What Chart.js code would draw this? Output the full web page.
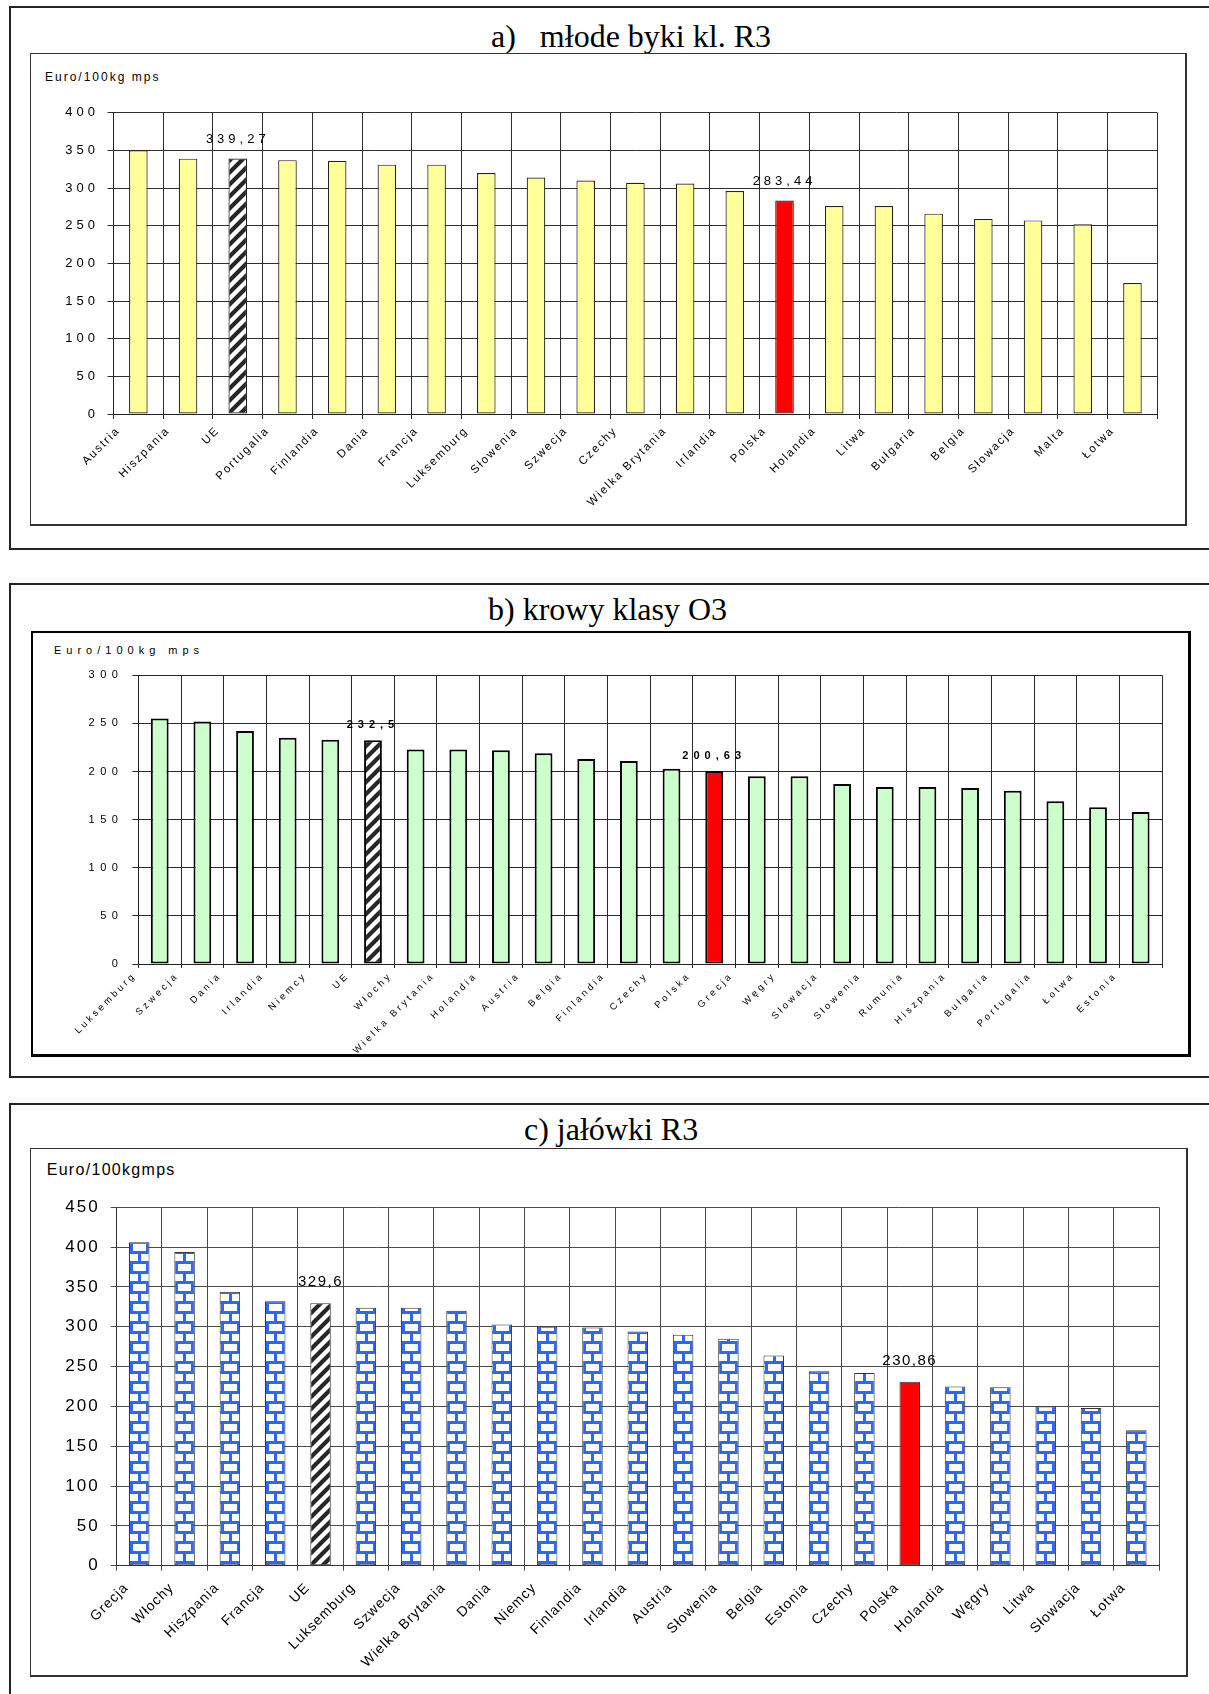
<!DOCTYPE html>
<html><head><meta charset="utf-8">
<script src="https://cdn.jsdelivr.net/npm/chart.js@4.4.1/dist/chart.umd.min.js"></script>
<style>
html,body{margin:0;padding:0;background:#fff;}
body{width:1209px;height:1694px;position:relative;overflow:hidden;font-family:'Liberation Sans',Arial,sans-serif;}
.outer{position:absolute;border:2px solid #222;box-sizing:border-box;}
.inner{position:absolute;box-sizing:border-box;background:#fff;border-style:solid;}
.title{position:absolute;font-family:'Liberation Serif','Times New Roman',serif;font-size:32px;line-height:32px;white-space:pre;color:#000;}
.ytitle{position:absolute;white-space:pre;color:#000;font-family:'Liberation Sans',Arial,sans-serif;}
canvas{position:absolute;}
</style></head>
<body>
<div class="outer" style="left:9px;top:6px;width:1230px;height:544px;"></div>
<div class="title" style="left:491px;top:20px;">a)   młode byki kl. R3</div>
<div class="inner" style="left:30px;top:53px;width:1157px;height:473px;border-color:#333;border-width:1px 2px 2px 1px;"></div>
<div class="ytitle" style="left:45px;top:70px;font-size:12px;line-height:14px;letter-spacing:2px;">Euro/100kg mps</div>
<canvas id="ca" width="1154" height="470" style="left:31px;top:54px;"></canvas>

<div class="outer" style="left:9px;top:583px;width:1230px;height:495px;"></div>
<div class="title" style="left:488px;top:593px;">b) krowy klasy O3</div>
<div class="inner" style="left:31px;top:631px;width:1160px;height:426px;border-color:#000;border-width:2px 3px 3px 2px;"></div>
<div class="ytitle" style="left:54px;top:643.5px;font-size:11px;line-height:13px;letter-spacing:5px;">Euro/100kg mps</div>
<canvas id="cb" width="1155" height="421" style="left:33px;top:633px;"></canvas>

<div class="outer" style="left:9px;top:1103px;width:1230px;height:700px;"></div>
<div class="title" style="left:524px;top:1113px;">c) jałówki R3</div>
<div class="inner" style="left:30px;top:1148px;width:1158px;height:529px;border-color:#333;border-width:1px 2px 2px 1px;"></div>
<div class="ytitle" style="left:46.7px;top:1161px;font-size:16px;line-height:18px;letter-spacing:1.3px;">Euro/100kgmps</div>
<canvas id="cc" width="1155" height="526" style="left:31px;top:1149px;"></canvas>

<script>
// ---------- DATA ----------
const labelsA = ['Austria','Hiszpania','UE','Portugalia','Finlandia','Dania','Francja','Luksemburg','Słowenia','Szwecja','Czechy','Wielka Brytania','Irlandia','Polska','Holandia','Litwa','Bułgaria','Belgia','Słowacja','Malta','Łotwa'];
const valuesA = [350, 339, 339.27, 337, 336, 331, 331, 320, 314, 310, 307, 306, 296, 283.44, 276, 276, 266, 259, 257, 252, 174];
const yTicksA = [0, 50, 100, 150, 200, 250, 300, 350, 400];

const labelsB = ['Luksemburg','Szwecja','Dania','Irlandia','Niemcy','UE','Włochy','Wielka Brytania','Holandia','Austria','Belgia','Finlandia','Czechy','Polska','Grecja','Węgry','Słowacja','Słowenia','Rumunia','Hiszpania','Bułgaria','Portugalia','Łotwa','Estonia'];
const valuesB = [255, 252, 242, 235, 233, 232.5, 223, 223, 222, 219, 213, 211, 203, 200.63, 195, 195, 187, 184, 184, 183, 180, 169, 163, 158];
const yTicksB = [0, 50, 100, 150, 200, 250, 300];

const labelsC = ['Grecja','Włochy','Hiszpania','Francja','UE','Luksemburg','Szwecja','Wielka Brytania','Dania','Niemcy','Finlandia','Irlandia','Austria','Słowenia','Belgia','Estonia','Czechy','Polska','Holandia','Węgry','Litwa','Słowacja','Łotwa'];
const valuesC = [406, 394, 344, 332, 329.6, 324, 324, 320, 303, 300, 299, 294, 290, 285, 264, 244, 242, 230.86, 225, 224, 200, 198, 170];
const yTicksC = [0, 50, 100, 150, 200, 250, 300, 350, 400, 450];

const highlighted = ['UE', 'Polska'];
// ---------------------------

const FONT = "'Liberation Sans', Arial, sans-serif";

function makeTile(w, h, draw) {
  const t = document.createElement('canvas'); t.width = w; t.height = h;
  const c = t.getContext('2d'); c.fillStyle = '#fff'; c.fillRect(0, 0, w, h); draw(c); return t;
}
const hatchTile = makeTile(12, 12, c => {
  c.strokeStyle = '#262626'; c.lineWidth = 4.2;
  c.beginPath();
  c.moveTo(-6, 6); c.lineTo(6, -6);
  c.moveTo(-1, 13); c.lineTo(13, -1);
  c.moveTo(6, 18); c.lineTo(18, 6);
  c.stroke();
});
const brickTile = makeTile(16, 20, c => {
  c.fillStyle = '#2f66f7';
  c.fillRect(0, 5, 16, 3); c.fillRect(0, 15, 16, 3);
  c.fillRect(8, 8, 3, 7);
  c.fillRect(0, 18, 3, 2); c.fillRect(0, 0, 3, 5);
});

function alignedPattern(ctx, tile, pct, dx) {
  const ch = ctx.chart, xs = ch.scales.x, ys = ch.scales.y;
  const p = ch.ctx.createPattern(tile, 'repeat');
  if (xs && ys && isFinite(xs.width) && xs.width > 0) {
    const n = ch.data.labels.length;
    const bw = xs.width / n * pct;
    const left = xs.getPixelForValue(ctx.dataIndex) - bw / 2;
    p.setTransform(new DOMMatrix().translate(Math.round(left + dx), Math.round(ys.getPixelForValue(0))));
  }
  return p;
}

function spaced(scale, px) {
  if (scale.__spaced) return;
  scale.__spaced = true;
  const orig = scale.drawLabels;
  scale.drawLabels = function (area) {
    const c = this.ctx; c.save(); c.letterSpacing = px + 'px'; orig.call(this, area); c.restore();
  };
}

const valueLabels = {
  id: 'valueLabels',
  afterDatasetsDraw(chart, args, opts) {
    const ctx = chart.ctx, meta = chart.getDatasetMeta(0);
    const data = chart.data.datasets[0].data, labels = chart.data.labels;
    ctx.save();
    ctx.font = opts.font; ctx.fillStyle = '#000'; ctx.textAlign = 'center'; ctx.textBaseline = 'middle';
    ctx.letterSpacing = opts.ls + 'px';
    labels.forEach((lab, i) => {
      if (highlighted.indexOf(lab) < 0) return;
      const el = meta.data[i];
      ctx.fillText(String(data[i]).replace('.', ','), el.x, el.y - opts.gap);
    });
    ctx.restore();
  }
};

function makeChart(id, cfg) {
  return new Chart(document.getElementById(id), {
    type: 'bar',
    data: {
      labels: cfg.labels,
      datasets: [{
        data: cfg.values,
        backgroundColor: cfg.bg,
        borderColor: cfg.borderColor,
        borderWidth: cfg.borderWidth,
        borderSkipped: false,
        barPercentage: cfg.barPct,
        categoryPercentage: 1
      }]
    },
    options: {
      responsive: false, animation: false, devicePixelRatio: 1, events: [],
      layout: { padding: { left: 0, top: cfg.padTop, right: cfg.padRight, bottom: 0 } },
      plugins: {
        legend: { display: false }, tooltip: { enabled: false }, title: { display: false },
        valueLabels: { font: cfg.dataFont, ls: cfg.dataLs, gap: cfg.gap }
      },
      scales: {
        x: {
          offset: true,
          grid: { offset: true, color: cfg.gridColor, lineWidth: 1, tickLength: cfg.xTick, drawTicks: true },
          border: { color: cfg.axisColor, width: 1 },
          ticks: { autoSkip: false, minRotation: 45, maxRotation: 45, labelOffset: cfg.labelOffset,
                   padding: cfg.xPad, color: '#000', font: { family: FONT, size: cfg.xFont } },
          afterFit: s => { s.height = cfg.xHeight; spaced(s, cfg.xLs); }
        },
        y: {
          min: cfg.yTicks[0], max: cfg.yTicks[cfg.yTicks.length - 1],
          grid: { color: cfg.gridColor, lineWidth: 1, tickLength: 6, drawTicks: true },
          border: { color: cfg.axisColor, width: 1 },
          ticks: { padding: cfg.yPad, color: '#000', font: { family: FONT, size: cfg.yFont } },
          afterBuildTicks: s => { s.ticks = cfg.yTicks.map(v => ({ value: v })); },
          afterFit: s => { s.width = cfg.yWidth; spaced(s, cfg.yLs); }
        }
      }
    },
    plugins: [valueLabels]
  });
}

makeChart('ca', {
  labels: labelsA, values: valuesA, yTicks: yTicksA,
  bg: ctx => { const l = labelsA[ctx.dataIndex]; return l === 'UE' ? alignedPattern(ctx, hatchTile, 0.374, 0) : l === 'Polska' ? '#ff0000' : '#ffff99'; },
  borderColor: '#222', borderWidth: 1.2, barPct: 0.374,
  padTop: 58.7, padRight: 27.7, yWidth: 82.5, xHeight: 110,
  gridColor: '#2e2e2e', axisColor: '#222', xTick: 5,
  labelOffset: -20, xPad: 5, xFont: 11.5, xLs: 1.8,
  yPad: 8.5, yFont: 13, yLs: 4,
  dataFont: "13px " + FONT, dataLs: 4, gap: 19
});

makeChart('cb', {
  labels: labelsB, values: valuesB, yTicks: yTicksB,
  bg: ctx => { const l = labelsB[ctx.dataIndex]; return l === 'UE' ? alignedPattern(ctx, hatchTile, 0.417, 0) : l === 'Polska' ? '#ff0000' : '#ccffcc'; },
  borderColor: '#000', borderWidth: 2, barPct: 0.417,
  padTop: 42.3, padRight: 26, yWidth: 105.4, xHeight: 90,
  gridColor: '#2a2a2a', axisColor: '#222', xTick: 4,
  labelOffset: -25, xPad: 2, xFont: 9.5, xLs: 3,
  yPad: 9, yFont: 11, yLs: 5.5,
  dataFont: "bold 11px " + FONT, dataLs: 5, gap: 15
});

makeChart('cc', {
  labels: labelsC, values: valuesC, yTicks: yTicksC,
  bg: ctx => { const l = labelsC[ctx.dataIndex]; return l === 'UE' ? alignedPattern(ctx, hatchTile, 0.452, 0) : l === 'Polska' ? '#ff0000' : alignedPattern(ctx, brickTile, 0.452, 1); },
  borderColor: '#333', borderWidth: 1, barPct: 0.452,
  padTop: 58.3, padRight: 27, yWidth: 85.6, xHeight: 109.3,
  gridColor: '#4a4a4a', axisColor: '#333', xTick: 5,
  labelOffset: -13, xPad: 9, xFont: 14, xLs: 1,
  yPad: 11, yFont: 17, yLs: 2,
  dataFont: "15px " + FONT, dataLs: 1.5, gap: 21
});
</script>
</body></html>
